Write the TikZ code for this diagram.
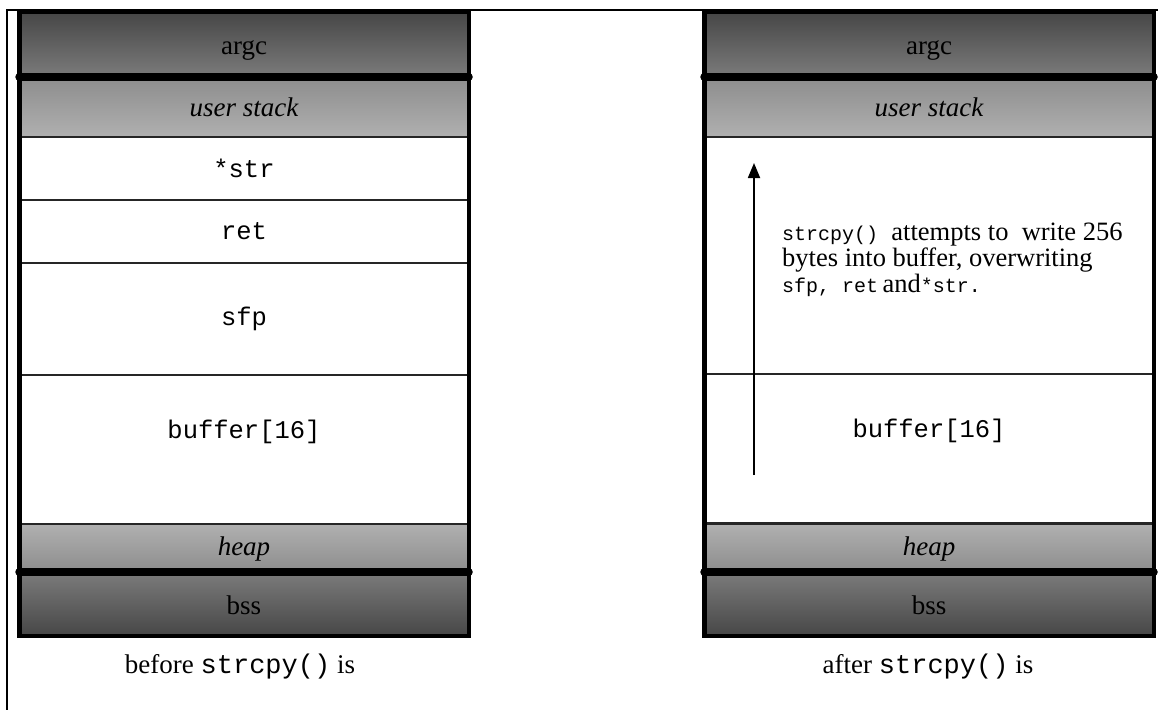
\documentclass[tikz,border=0pt]{standalone}
\usepackage{fontspec}
\setmainfont{Liberation Serif}
\setmonofont{Liberation Mono}
\usepackage{xcolor}
\usepackage{tikz}
\usetikzlibrary{arrows.meta}

\definecolor{segdark}{gray}{0.28}
\definecolor{segmid}{gray}{0.48}
\definecolor{seglite}{gray}{0.55}
\definecolor{segpale}{gray}{0.69}

\newcommand{\smalltt}[1]{{\fontsize{20}{20}\selectfont\ttfamily #1}}

\begin{document}
\begin{tikzpicture}[x=1pt,y=-1pt,
    every node/.style={font=\fontsize{27}{26}\selectfont},
    cell/.style={draw=black!85, line width=1.5pt, minimum width=448pt, inner sep=0pt, fill=white},
    ttcell/.style={cell, font=\fontsize{25.5}{26}\selectfont\ttfamily},
    graycell/.style={cell, text height=24pt, text depth=4pt},
    topcell/.style={graycell, top color=segdark, bottom color=segmid},
    upcell/.style={graycell, top color=seglite, bottom color=segpale},
    lowcell/.style={cell, top color=segpale, bottom color=seglite},
    basecell/.style={graycell, top color=segmid, bottom color=segdark},
    colframe/.style={draw, line width=4.5pt},
    divider/.style={draw, line width=8pt, line cap=round},
    bufcell/.style={ttcell, text height=18pt, text depth=40pt}]
    \useasboundingbox (0,0) rectangle (1158,709);
    \draw[line width=2.5pt] (7,712) -- (7,10) -- (1162,10);

    %before
    \node[topcell, minimum height=63pt] (argcA) at (244,44.5) {argc};
    \node[upcell, minimum height=61pt] (ustackA) at (244,106.5) {\itshape user stack};
    \node[ttcell, minimum height=63pt] (strA) at (244,168.5) {*str};
    \node[ttcell, minimum height=63pt] (retA) at (244,231.5) {ret};
    \node[ttcell, minimum height=112pt] (sfpA) at (244,319) {sfp};
    \node[bufcell, minimum height=149pt] (bufA) at (244,449.5) {buffer[16]};
    \node[lowcell, minimum height=49pt] (heapA) at (244,548.5) {\itshape heap};
    \node[basecell, minimum height=62pt] (bssA) at (244,604) {bss};
    \path[colframe] (argcA.north west) rectangle (bssA.south east);
    \path[divider] (argcA.south west) -- (argcA.south east);
    \path[divider] (bssA.north west) -- (bssA.north east);
    \node (capA) at (240,667) {before \texttt{strcpy()} is};

    %after
    \node[topcell, minimum height=63pt] (argcB) at (929,44.5) {argc};
    \node[upcell, minimum height=61pt] (ustackB) at (929,106.5) {\itshape user stack};
    \node[cell, minimum height=237pt] (overB) at (929,255.5) {};
    \node[bufcell, minimum height=149pt] (bufB) at (929,448.5) {buffer[16]};
    \node[lowcell, minimum height=49pt] (heapB) at (929,548.5) {\itshape heap};
    \node[basecell, minimum height=62pt] (bssB) at (929,604) {bss};
    \path[colframe] (argcB.north west) rectangle (bssB.south east);
    \path[divider] (argcB.south west) -- (argcB.south east);
    \path[divider] (bssB.north west) -- (bssB.north east);
    \node (capB) at (928,667) {after \texttt{strcpy()} is};

    \coordinate (fromB) at (754,475);
    \coordinate (toB) at (754,163);
    \path[draw, line width=1.8pt, -{Triangle[length=15pt,width=12pt]}] (fromB) -- (toB);
    \node[anchor=north west, align=left, inner sep=0pt, font=\fontsize{26.5}{26}\selectfont] (noteB) at (782,223)
      {\smalltt{strcpy()}\ \ attempts to\ \ write 256\\
       bytes into buffer, overwriting\\
       \smalltt{sfp, ret}\,and\smalltt{*str.}};
  \end{tikzpicture}
\end{document}
